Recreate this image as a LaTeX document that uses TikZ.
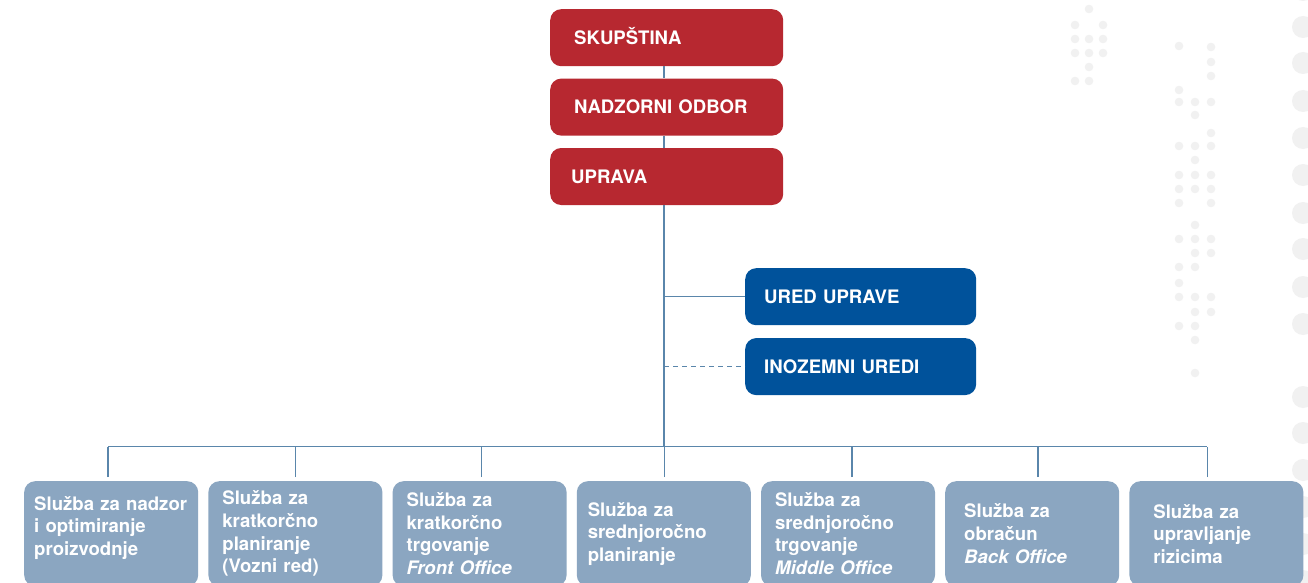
\documentclass[tikz,border=0pt]{standalone}
\usepackage{fontspec}
\setmainfont{TeX Gyre Heros}
\usetikzlibrary{positioning, calc}

\definecolor{boardred}{HTML}{B72830}
\definecolor{officeblue}{HTML}{00529B}
\definecolor{servicegray}{HTML}{8BA6C1}
\definecolor{linkblue}{HTML}{5A86AB}
\definecolor{dotgray}{HTML}{F1F1F1}

\begin{document}
\begin{tikzpicture}[
    x=1pt, y=1pt,
    font=\fontsize{18.6}{22.6}\selectfont\bfseries,
    lead/.style={fill=boardred, text=white, rounded corners=11pt, align=left,
                 inner xsep=#1, inner ysep=0pt, text width=233pt-2*#1,
                 text height=13.4pt, text depth=0pt, minimum height=57pt},
    office/.style={fill=officeblue, text=white, rounded corners=11pt, align=left,
                   inner xsep=19pt, inner ysep=0pt, text width=193pt,
                   text height=13.4pt, text depth=0pt, minimum height=57pt},
    service/.style={fill=servicegray, text=white, rounded corners=11pt, align=left,
                    inner xsep=#1, inner ysep=0pt, text width=174pt-2*#1,
                    minimum height=105pt},
    link/.style={draw=linkblue, line width=1.5pt},
    dot/.style={fill=dotgray},
]

    \fill[white] (0,0) rectangle (1308,-583);
    \useasboundingbox (0,0) rectangle (1308,-583);

    %==================== background dots ====================
    \foreach \x/\y in {1089/9, 1075/25, 1103/25, 1075/39, 1089/39, 1103/39,
                       1075/53, 1089/53, 1103/53, 1089/67, 1075/81, 1089/81}
        \fill[dot] (\x,-\y) circle (4.3);
    \foreach \x/\y in {1179/46, 1211/47, 1211/62, 1211/76, 1179/90,
                       1179/102, 1195/102, 1211/102, 1195/115, 1211/133,
                       1179/146, 1195/146, 1211/146, 1195/160,
                       1179/175, 1195/175, 1211/175, 1179/189, 1195/189, 1211/189,
                       1179/203, 1211/203, 1195/225, 1179/239, 1195/239, 1211/239,
                       1195/253, 1211/253, 1179/267, 1195/267, 1179/283,
                       1179/297, 1195/297, 1211/297, 1195/312, 1211/312,
                       1179/326, 1195/326, 1195/340, 1195/373}
        \fill[dot] (\x,-\y) circle (4.3);
    \foreach \y in {10, -27, -63, -101, -138, -175, -213, -249, -287, -324,
                    -397, -433, -470, -507, -544, -581}
        \fill[dot] (1303,\y) circle (11);

    %==================== board ====================
    \node[lead=24pt, anchor=north west] (skup) at (550,-9) {SKUPŠTINA};
    \node[lead=24pt, below=12pt of skup] (nadzor) {NADZORNI ODBOR};
    \node[lead=21pt, below=12pt of nadzor] (uprava) {UPRAVA};

    \coordinate (hub) at (664,-446.5);

    \draw[link] (skup.south -| hub) -- (nadzor.north -| hub);
    \draw[link] (nadzor.south -| hub) -- (uprava.north -| hub);
    \draw[link] (uprava.south -| hub) -- (hub);

    %==================== offices ====================
    \node[office, anchor=north west] (ured) at (745,-268) {URED UPRAVE};
    \node[office, below=12.5pt of ured] (inoz) {INOZEMNI UREDI};

    \draw[link] (ured.west -| hub) -- (ured.west);
    \draw[link, dash pattern=on 5pt off 4pt] (inoz.west -| hub) -- (inoz.west);

    %==================== services ====================
    \node[service=10pt, text depth=61pt, anchor=north west] (s1) at (24,-481)
        {Služba za nadzor\\ i optimiranje\\ proizvodnje};
    \node[service=14pt, right=9.8pt of s1] (s2)
        {Služba za\\ kratkorčno\\ planiranje\\ (Vozni red)};
    \node[service=14pt, right=9.8pt of s2] (s3)
        {Služba za\\ kratkorčno\\ trgovanje\\ \textit{Front Office}};
    \node[service=11pt, right=9.8pt of s3] (s4)
        {Služba za\\ srednjoročno\\ planiranje};
    \node[service=14pt, right=9.8pt of s4] (s5)
        {Služba za\\ srednjoročno\\ trgovanje\\ \textit{Middle Office}};
    \node[service=19pt, right=9.8pt of s5] (s6)
        {Služba za\\ obračun\\ \textit{Back Office}};
    \node[service=24pt, right=9.8pt of s6] (s7)
        {Služba za\\ upravljanje\\ rizicima};

    % bus and drops
    \draw[link] ($(s1.north |- hub)+(-3,0)$) -- ($(s7.north |- hub)+(-9,0)$);
    \foreach \i/\dx in {1/-3, 2/0, 3/2, 4/0.5, 5/4, 6/6, 7/-9}
        \draw[link, shorten <=4pt] ($(s\i.north)+(\dx,0)$) -- ($(s\i.north |- hub)+(\dx,0)$);

\end{tikzpicture}
\end{document}
